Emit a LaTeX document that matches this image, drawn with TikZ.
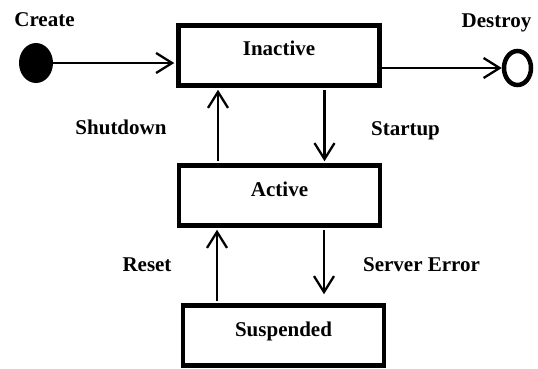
\documentclass[tikz,border=0pt]{standalone}
\usepackage{fontspec}
\setmainfont{Liberation Serif}
\usetikzlibrary{arrows.meta,shapes.geometric}

\begin{document}
\begin{tikzpicture}[x=1pt, y=-1pt, every node/.style={font=\fontsize{21}{25}\selectfont\bfseries}]
    % Define styles
    \tikzstyle{state} = [draw, rectangle, line width=4.5pt, minimum width=201pt, minimum height=60pt, text height=14pt, text depth=13pt, inner sep=0pt]
    \tikzstyle{lbl} = [anchor=base, inner sep=0pt]
    \tikzstyle{arr} = [-{Straight Barb[length=16pt, width=20pt, line width=2.3pt]}, line width=2.3pt]

    \useasboundingbox (0,0) rectangle (538,369);

    % Nodes
    \node[ellipse, fill=black, minimum width=34pt, minimum height=40pt, inner sep=0pt] (create) at (36,63) {};
    \node[ellipse, draw, line width=4.5pt, minimum width=27pt, minimum height=34pt, inner sep=0pt] (destroy) at (517.5,68) {};
    \node[state] (inactive) at (279,55.5) {Inactive};
    \node[state] (active) at (279.5,195.5) {Active};
    \node[state] (suspended) at (283.5,335.5) {Suspended};

    % Labels
    \node[lbl] (create_lbl) at (44.5,27) {Create};
    \node[lbl] (destroy_lbl) at (496.5,28) {Destroy};
    \node[lbl] (shutdown_lbl) at (121,134) {Shutdown};
    \node[lbl] (startup_lbl) at (405.5,135.5) {Startup};
    \node[lbl] (reset_lbl) at (147,271) {Reset};
    \node[lbl] (error_lbl) at (421.5,271) {Server Error};

    % Flow arrows
    \draw[arr, shorten >=2pt] (create.east) -- (create -| inactive.west);
    \draw[arr] (inactive.east |- destroy) -- (destroy.west);
    \draw[arr, shorten <=2pt, shorten >=2pt] ([xshift=-61.5pt]active.north) -- ([xshift=-61.5pt]active.north |- inactive.south);
    \draw[arr, shorten <=2pt, shorten >=2pt] ([xshift=45.5pt]inactive.south) -- ([xshift=45.5pt]inactive.south |- active.north);
    \draw[arr, shorten <=2pt, shorten >=2pt] ([xshift=-66.5pt]suspended.north) -- ([xshift=-66.5pt]suspended.north |- active.south);
    \draw[arr, shorten <=2pt, shorten >=9pt] ([xshift=44.5pt]active.south) -- ([xshift=44.5pt]active.south |- suspended.north);
\end{tikzpicture}
\end{document}
